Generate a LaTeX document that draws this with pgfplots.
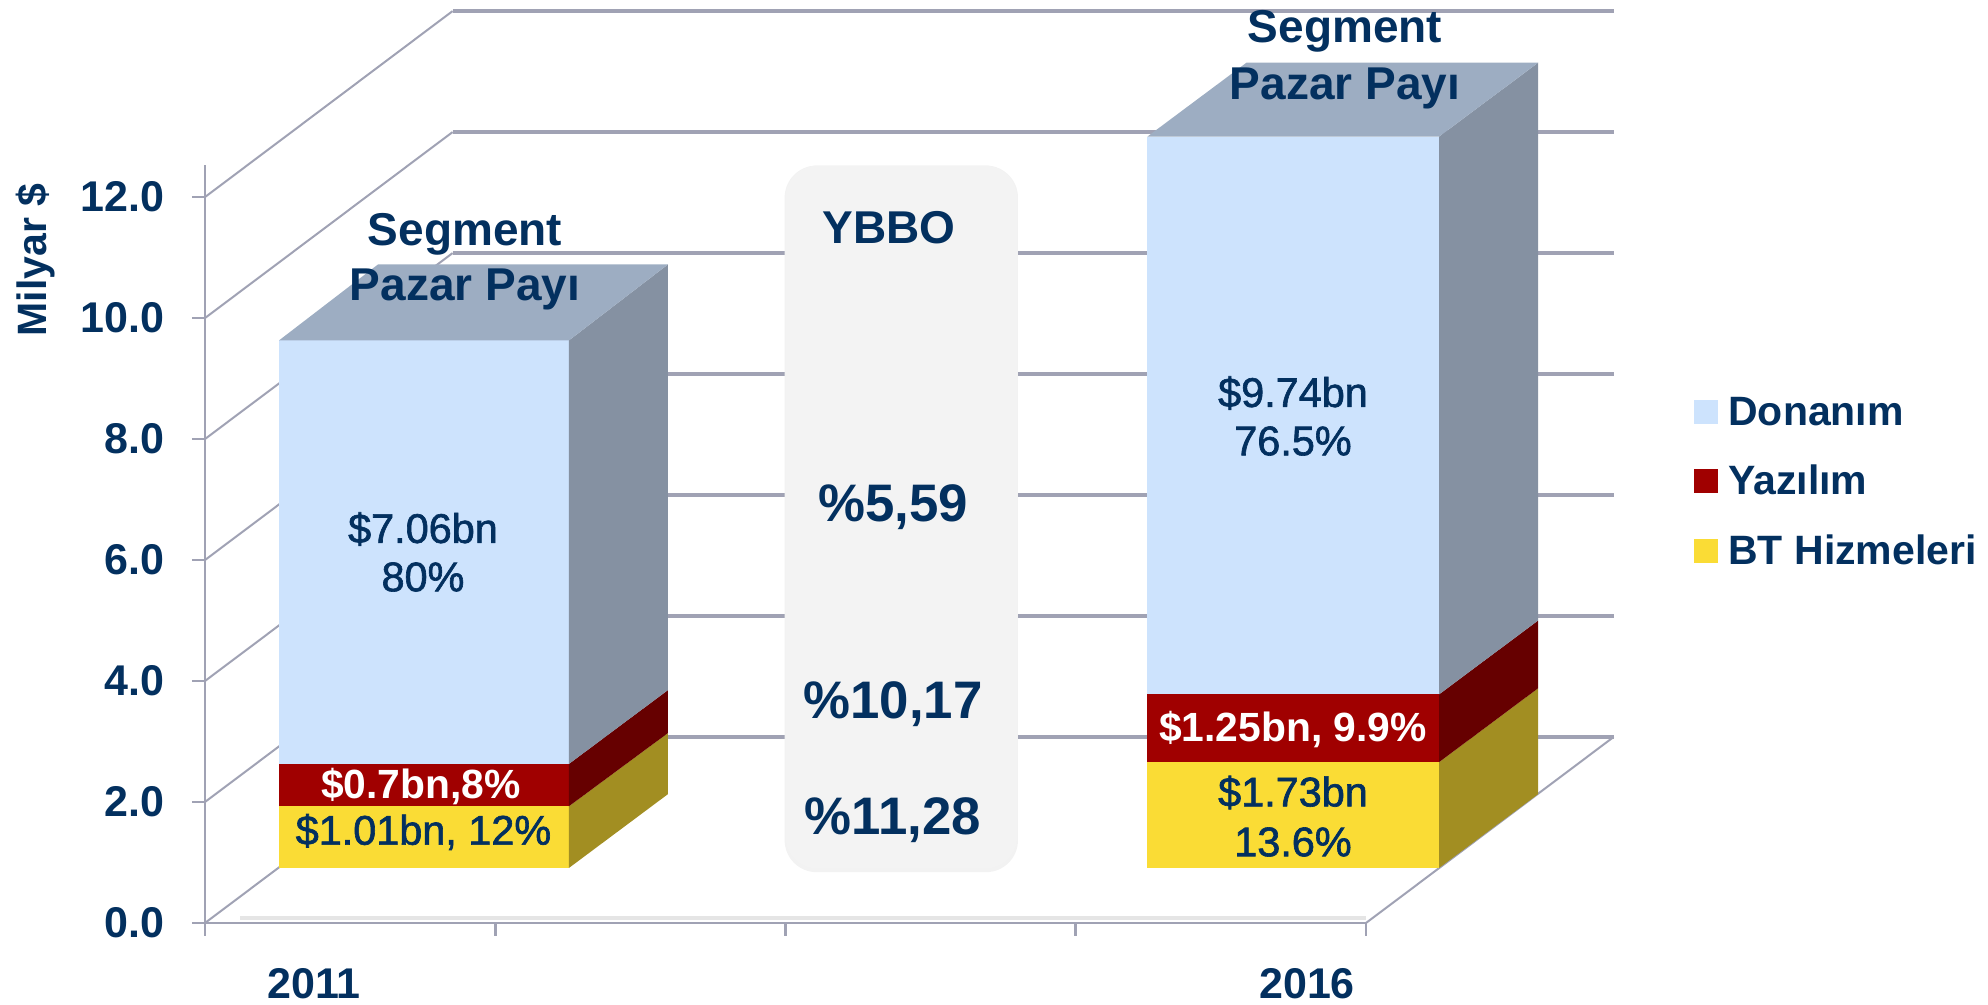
\documentclass[border=0pt]{standalone}
\usepackage{pgfplots}
\pgfplotsset{compat=1.18}
\usepackage{fontspec}
\setmainfont{Liberation Sans}
\newcommand\semi[1]{\special{pdf:code q 2 Tr 0.32 w}#1\special{pdf:code Q}}
\definecolor{navy}{HTML}{03305F}
\definecolor{gridc}{HTML}{A0A2B4}
\definecolor{blueF}{HTML}{CDE3FD}
\definecolor{blueS}{HTML}{8591A2}
\definecolor{blueT}{HTML}{9DADC2}
\definecolor{redF}{HTML}{A00000}
\definecolor{redS}{HTML}{660000}
\definecolor{yelF}{HTML}{FADC35}
\definecolor{yelS}{HTML}{A28E22}
\definecolor{boxc}{HTML}{F3F3F3}
\newcommand\fs[1]{\fontsize{#1}{#1}\selectfont}
% a text placed by its centre, given in reference pixels
\newcommand\T[4][navy]{\node[text=#1,inner sep=0pt,anchor=center,font=\fs{#2}] at (axis cs:{(#3-205)/290.25},{(923-#4)/60.5})}
\begin{document}
\begin{tikzpicture}
\useasboundingbox (-102.5pt,-41pt) rectangle (891.5pt,461.5pt);
\begin{axis}[
  scale only axis, width=580.5pt, height=379pt,
  xmin=0, xmax=4, ymin=0, ymax=12.53,
  clip=false,
  axis x line*=bottom, axis y line*=left,
  axis line style={draw=gridc,line width=1.4pt,-},
  tick style={draw=gridc,line width=1.4pt},
  tick align=outside, major tick length=6.5pt,
  xtick={0,1,2,3,4}, xticklabels={},
  ytick={0,2,4,6,8,10,12},
  extra x ticks={0.376,3.797},
  extra x tick labels={2011,2016},
  extra x tick style={major tick length=0pt, xticklabel style={yshift=-19pt}},
  tick label style={font=\fs{21.5}\bfseries,text=navy},
  yticklabel style={inner sep=0pt,xshift=-13.7pt},
  /pgf/number format/assume math mode=true,
  /pgf/number format/fixed, /pgf/number format/fixed zerofill, /pgf/number format/precision=1,
  ylabel={Milyar \$},
  ylabel style={at={(axis cs:-0.583,10.96)},anchor=center,font=\fs{20.5}\bfseries,text=navy},
  legend style={at={(axis cs:5.13,8.77)},anchor=north west,draw=none,fill=none,
    font=\fs{20.5}\bfseries\color{navy},row sep=14.4pt,column sep=3pt,inner sep=0pt},
  legend cell align=left,
  legend image code/.code={\fill[#1,draw=none] (0pt,-6pt) rectangle (12pt,6pt);},
]
% walls and floor: one left slant and one back line per gridline
\pgfplotsinvokeforeach{0,2,4,6,8,10,12}{
  \addplot[forget plot,draw=gridc,line width=1pt] coordinates {(0,#1) (0.853,#1+3.074)};
  \addplot[forget plot,draw=gridc,line width=1.6pt] coordinates {(0.853,#1+3.074) (4.853,#1+3.074)};
}
\addplot[forget plot,draw=gridc,line width=1pt] coordinates {(4,0) (4.853,3.074)};
\addplot[forget plot,draw=gray!20,line width=2pt] coordinates {(0.12,0.08) (4,0.08)};

% 2011, front faces
\addplot[forget plot,fill=yelF,draw=none] coordinates {(0.255,0.91)(1.254,0.91)(1.254,1.93)(0.255,1.93)} -- cycle;
\addplot[forget plot,fill=redF,draw=none] coordinates {(0.255,1.93)(1.254,1.93)(1.254,2.63)(0.255,2.63)} -- cycle;
\addplot[forget plot,fill=blueF,draw=none] coordinates {(0.255,2.63)(1.254,2.63)(1.254,9.63)(0.255,9.63)} -- cycle;
% 2011, side faces and top
\addplot[forget plot,fill=yelS,draw=none] coordinates {(1.254,0.91)(1.595,2.13)(1.595,3.14)(1.254,1.93)} -- cycle;
\addplot[forget plot,fill=redS,draw=none] coordinates {(1.254,1.93)(1.595,3.14)(1.595,3.85)(1.254,2.63)} -- cycle;
\addplot[forget plot,fill=blueS,draw=none] coordinates {(1.254,2.63)(1.595,3.85)(1.595,10.886)(1.254,9.63)} -- cycle;
\addplot[forget plot,fill=blueT,draw=none] coordinates {(0.255,9.63)(1.254,9.63)(1.595,10.886)(0.596,10.886)} -- cycle;

% 2016, front faces
\addplot[forget plot,fill=yelF,draw=none] coordinates {(3.247,0.91)(4.252,0.91)(4.252,2.66)(3.247,2.66)} -- cycle;
\addplot[forget plot,fill=redF,draw=none] coordinates {(3.247,2.66)(4.252,2.66)(4.252,3.78)(3.247,3.78)} -- cycle;
\addplot[forget plot,fill=blueF,draw=none] coordinates {(3.247,3.78)(4.252,3.78)(4.252,13.0)(3.247,13.0)} -- cycle;
% 2016, side faces and top
\addplot[forget plot,fill=yelS,draw=none] coordinates {(4.252,0.91)(4.593,2.13)(4.593,3.88)(4.252,2.66)} -- cycle;
\addplot[forget plot,fill=redS,draw=none] coordinates {(4.252,2.66)(4.593,3.88)(4.593,5.0)(4.252,3.78)} -- cycle;
\addplot[forget plot,fill=blueS,draw=none] coordinates {(4.252,3.78)(4.593,5.0)(4.593,14.22)(4.252,13.0)} -- cycle;
\addplot[forget plot,fill=blueT,draw=none] coordinates {(3.247,13.0)(4.252,13.0)(4.593,14.22)(3.588,14.22)} -- cycle;

% the YBBO panel
\fill[black!5,rounded corners=16pt] (axis cs:1.997,0.84) rectangle (axis cs:2.801,12.52);
\fill[boxc,rounded corners=16pt] (axis cs:2.0,0.9) rectangle (axis cs:2.798,12.52);

\addlegendimage{fill=blueF}
\addlegendentry{Donanım}
\addlegendimage{fill=redF}
\addlegendentry{Yazılım}
\addlegendimage{fill=yelF}
\addlegendentry{BT Hizmeleri}

\T{23}{465}{234.5}{\bfseries Segment};
\T{23}{465}{289.5}{\bfseries Pazar Payı};
\T{23}{1345}{31}{\bfseries Segment};
\T{23}{1345}{88}{\bfseries Pazar Payı};
\T{23}{889}{228}{\bfseries YBBO};
\T{26.4}{893}{507}{\bfseries \%5,59};
\T{26.4}{893}{704}{\bfseries \%10,17};
\T{26.4}{893}{820}{\bfseries \%11,28};
\T{20.7}{423}{529}{\semi{\$7.06bn}};
\T{20.7}{423}{577}{\semi{80\%}};
\T{20.7}{423.5}{832}{\semi{\$1.01bn, 12\%}};
\T[white]{20.4}{421}{787}{\bfseries \$0.7bn,8\%};
\T{20.7}{1293}{393}{\semi{\$9.74bn}};
\T{20.7}{1293}{441}{\semi{76.5\%}};
\T[white]{20.4}{1293}{730}{\bfseries \$1.25bn, 9.9\%};
\T{20.7}{1293}{792.5}{\semi{\$1.73bn}};
\T{20.7}{1293}{842}{\semi{13.6\%}};
\end{axis}
\end{tikzpicture}
\end{document}
